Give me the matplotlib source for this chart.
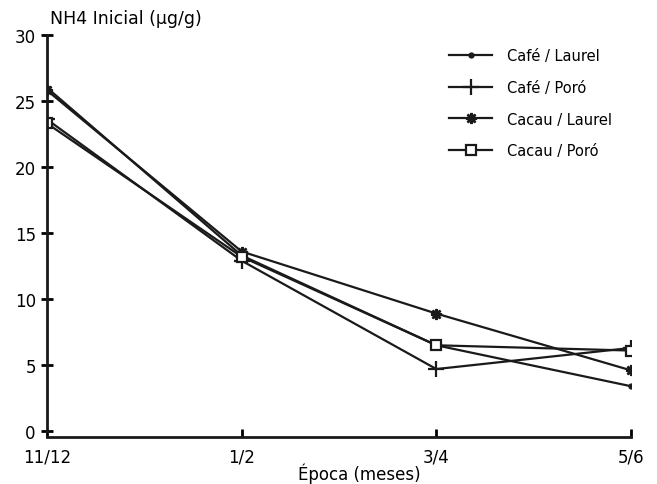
import matplotlib
matplotlib.use("Agg")
import matplotlib.pyplot as plt

periods = ["11/12", "1/2", "3/4", "5/6"]
cafe_laurel = [26.0, 13.3, 6.5, 3.4]
cafe_poro = [23.6, 12.9, 4.7, 6.3]
cacau_laurel = [25.8, 13.6, 8.9, 4.6]
cacau_poro = [23.3, 13.2, 6.5, 6.1]
yticks = [0, 5, 10, 15, 20, 25, 30]

plt.rcParams['font.family'] = ['DejaVu Sans']
fig = plt.figure(figsize=(6.57, 4.85), dpi=100)
ax = fig.add_axes([0.0715, 0.109, 0.889, 0.817])

x = list(range(len(periods)))
ax.plot(x, cafe_laurel, color='#1a1a1a', lw=1.6, marker='o', ms=3.5, label='Café / Laurel')
ax.plot(x, cafe_poro, color='#1a1a1a', lw=1.6, marker='+', ms=11, mew=1.6, label='Café / Poró')
ax.plot(x, cacau_laurel, color='#1a1a1a', lw=1.6, marker=(8, 2, 0), ms=8, mew=1.8, label='Cacau / Laurel')
ax.plot(x, cacau_poro, color='#1a1a1a', lw=1.6, marker='s', ms=6.5, mfc='white', mew=1.6, label='Cacau / Poró')

ax.set_xlim(0, 3)
ax.set_ylim(0, 30)
ax.set_xticks(x)
ax.set_xticklabels(periods)
ax.set_yticks(yticks)
ax.tick_params(axis='x', direction='in', length=6, width=2, labelsize=12, pad=8)
ax.tick_params(axis='y', direction='inout', length=8, width=2, labelsize=12, pad=4)
for s in ['top', 'right']:
    ax.spines[s].set_visible(False)
for s in ['left', 'bottom']:
    ax.spines[s].set_linewidth(2)
    ax.spines[s].set_color('#1a1a1a')
ax.spines['bottom'].set_position(('outward', 4))

ax.set_xlabel('Época (meses)', fontsize=12)
ax.xaxis.set_label_coords(0.535, -0.078)
ax.text(0.005, 1.02, 'NH4 Inicial (µg/g)', transform=ax.transAxes, fontsize=12.5, ha='left', va='bottom')

ax.legend(loc='upper right', bbox_to_anchor=(0.99, 1.0), frameon=False, fontsize=10.5,
          handlelength=3, labelspacing=1.15, handletextpad=1.0)

fig.savefig('out.png', dpi=100)
